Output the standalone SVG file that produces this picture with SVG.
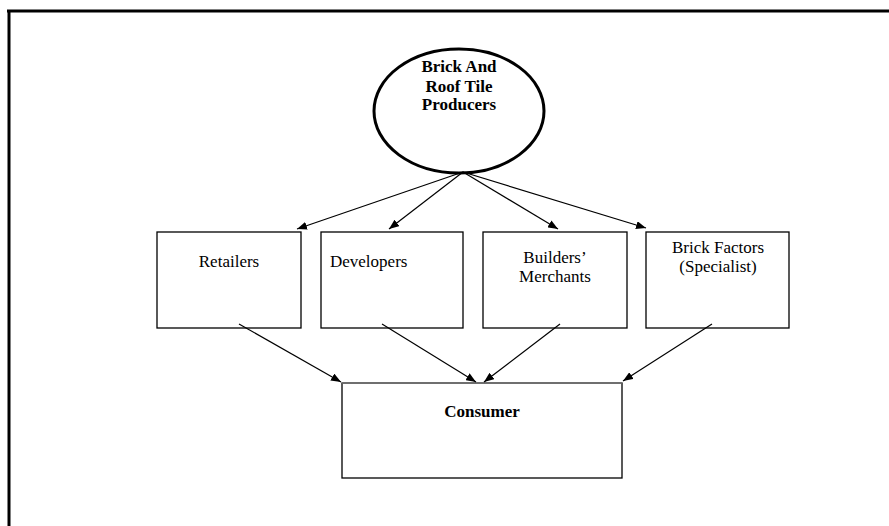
<svg xmlns="http://www.w3.org/2000/svg" width="889" height="526" viewBox="0 0 889 526">
<defs>
<style>
.box{fill:#fff;stroke:#000;stroke-width:1.3}
.t{font-family:"Liberation Serif","Times New Roman",serif;font-size:17px;fill:#000;text-anchor:middle}
.b{font-weight:bold}
.c{stroke:#000;stroke-width:1.2;fill:none}
</style>
<marker id="ah" viewBox="0 0 10 8" refX="10" refY="4" markerWidth="10" markerHeight="8" markerUnits="userSpaceOnUse" orient="auto">
<path d="M0,0 L10,4 L0,8 z" fill="#000"/>
</marker>
</defs>
<rect width="889" height="526" fill="#fff"/>
<g id="frame">
<line x1="7" y1="11" x2="889" y2="11" stroke="#000" stroke-width="3"/>
<line x1="9" y1="10" x2="9" y2="526" stroke="#000" stroke-width="3"/>
</g>
<g id="producers">
<ellipse cx="459" cy="111" rx="85" ry="62" fill="#fff" stroke="#000" stroke-width="3"/>
<text class="t b" x="459" y="72">Brick And</text>
<text class="t b" x="459" y="91.5">Roof Tile</text>
<text class="t b" x="459" y="110">Producers</text>
</g>
<g id="retailers">
<rect class="box" x="157" y="232" width="144" height="96"/>
<text class="t" x="229" y="267">Retailers</text>
</g>
<g id="developers">
<rect class="box" x="321" y="232" width="142" height="96"/>
<text class="t" x="330" y="267" style="text-anchor:start">Developers</text>
</g>
<g id="builders">
<rect class="box" x="483" y="232" width="144" height="96"/>
<text class="t" x="555" y="263">Builders’</text>
<text class="t" x="555" y="281.5">Merchants</text>
</g>
<g id="factors">
<rect class="box" x="646" y="232" width="143" height="96"/>
<text class="t" x="718" y="253">Brick Factors</text>
<text class="t" x="718" y="272">(Specialist)</text>
</g>
<g id="consumer">
<rect class="box" x="342" y="383" width="280" height="95"/>
<line x1="342" y1="383" x2="622" y2="383" stroke="#777" stroke-width="1.5"/>
<text class="t b" x="482" y="417">Consumer</text>
</g>
<g id="connectors">
<line class="c" x1="463" y1="172" x2="297" y2="229" marker-end="url(#ah)"/>
<line class="c" x1="463" y1="172" x2="389" y2="229" marker-end="url(#ah)"/>
<line class="c" x1="463" y1="172" x2="558" y2="229" marker-end="url(#ah)"/>
<line class="c" x1="463" y1="172" x2="646" y2="228" marker-end="url(#ah)"/>
<line class="c" x1="239" y1="324" x2="341" y2="382" marker-end="url(#ah)"/>
<line class="c" x1="382" y1="324" x2="476" y2="382" marker-end="url(#ah)"/>
<line class="c" x1="560" y1="324" x2="484" y2="382" marker-end="url(#ah)"/>
<line class="c" x1="712" y1="324" x2="623" y2="381" marker-end="url(#ah)"/>
</g>
</svg>
